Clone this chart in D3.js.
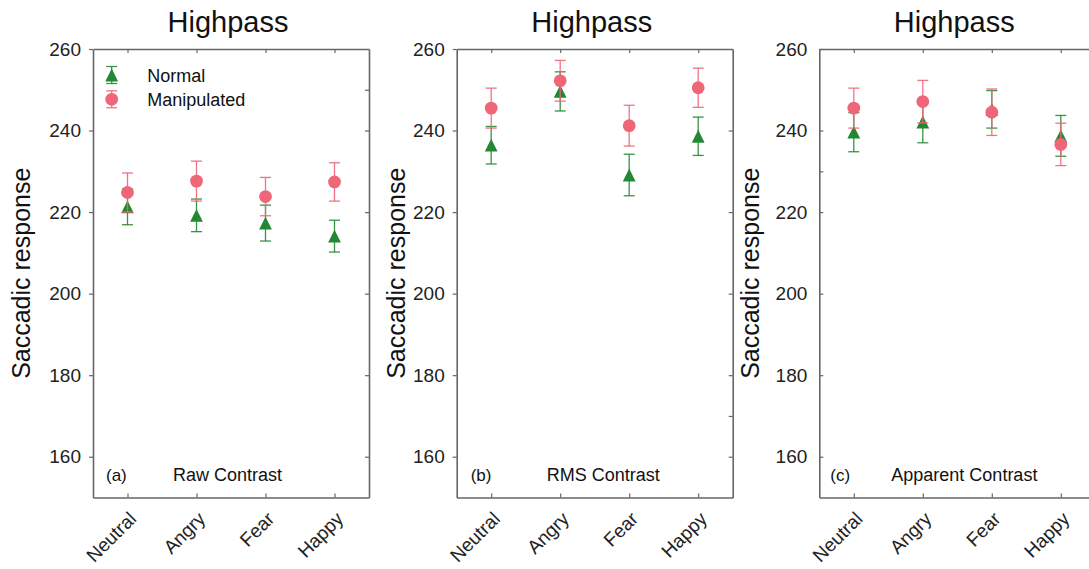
<!DOCTYPE html>
<html>
<head>
<meta charset="utf-8">
<script src="https://cdn.jsdelivr.net/npm/d3@7"></script>
<style>
  html, body { margin: 0; padding: 0; background: #fff; }
  svg { display: block; font-family: "Liberation Sans", Arial, sans-serif; }
</style>
</head>
<body>
<svg id="chart" width="1089" height="569"></svg>
<script>
// ---------------- data ----------------
const categories = ["Neutral", "Angry", "Fear", "Happy"];
const yTicks = [160, 180, 200, 220, 240, 260];
const panelTitles = ["Highpass", "Highpass", "Highpass"];
const panelTags = ["(a)", "(b)", "(c)"];
const panelNames = ["Raw Contrast", "RMS Contrast", "Apparent Contrast"];
const seriesNames = ["Normal", "Manipulated"];
const yLabel = "Saccadic response";

const rawNormal = [221.3, 219.2, 217.3, 214.1];
const rawNormalErr = [4.4, 4.0, 4.4, 3.9];
const rawManip = [224.8, 227.6, 223.8, 227.4];
const rawManipErr = [4.8, 4.9, 4.7, 4.7];

const rmsNormal = [236.4, 249.6, 229.1, 238.6];
const rmsNormalErr = [4.6, 4.8, 5.1, 4.7];
const rmsManip = [245.5, 252.2, 241.2, 250.5];
const rmsManipErr = [4.9, 5.0, 5.0, 4.8];

const appNormal = [239.6, 242.1, 245.2, 238.7];
const appNormalErr = [4.8, 5.1, 4.6, 5.0];
const appManip = [245.5, 247.1, 244.5, 236.6];
const appManipErr = [4.9, 5.2, 5.7, 5.2];

// odd extra tick marks present in the original frame
const rightTicks = [[250, 240, 220, 200, 180, 160], [240, 220, 200, 180, 170, 160], []];
const leftTicksExtra = [[], [], [230]];

// ---------------- layout ----------------
const W = 1089, H = 569;
const panelLeft = [93, 456.7, 819.3];
const panelW = 276;
const plotTop = 49, plotBottom = 497.5;
const yLabelOffset = [-63, -52, -60];
const tagOffset = [13, 14, 11];
const nameOffset = [80, 90, 72];
const leftTickDir = [1, 1, -1]; // 1 outward, -1 inward
const green = "#228833", pink = "#EE6677";
const axisColor = "#666";
const textColor = "#222";

const panelData = [
  { normal: rawNormal, normalErr: rawNormalErr, manip: rawManip, manipErr: rawManipErr },
  { normal: rmsNormal, normalErr: rmsNormalErr, manip: rmsManip, manipErr: rmsManipErr },
  { normal: appNormal, normalErr: appNormalErr, manip: appManip, manipErr: appManipErr }
];

const svg = d3.select("#chart");
svg.append("rect").attr("width", W).attr("height", H).attr("fill", "#fff");

const y = d3.scaleLinear().domain([150, 260]).range([plotBottom, plotTop]);
const x = d3.scalePoint().domain(categories).range([0, panelW]).padding(0.5);

const triSize = 6.4, circR = 6.4, capHalf = 5.5;
function triPath(h) { return `M0,${-h}L${h},${h}L${-h},${h}Z`; }

function drawErr(g, cx, v, e, color) {
  const y1 = y(v + e), y2 = y(v - e);
  const eg = g.append("g").attr("stroke", color).attr("stroke-width", 1.3).attr("stroke-opacity", 0.9);
  eg.append("line").attr("x1", cx).attr("x2", cx).attr("y1", y1).attr("y2", y2);
  eg.append("line").attr("x1", cx - capHalf).attr("x2", cx + capHalf).attr("y1", y1).attr("y2", y1);
  eg.append("line").attr("x1", cx - capHalf).attr("x2", cx + capHalf).attr("y1", y2).attr("y2", y2);
}

panelData.forEach((pd, pi) => {
  const g = svg.append("g").attr("transform", `translate(${panelLeft[pi]},0)`);

  // title
  g.append("text").attr("x", panelW / 2 - 3).attr("y", 32).attr("text-anchor", "middle")
    .attr("font-size", 29).attr("fill", "#111").text(panelTitles[pi]);

  // left axis
  const dir = leftTickDir[pi];
  const la = d3.axisLeft(y).tickValues(yTicks.concat(leftTicksExtra[pi]))
    .tickSizeInner(4 * dir).tickSizeOuter(0).tickPadding(dir > 0 ? 8 : 12)
    .tickFormat(d => yTicks.includes(d) ? d : "");
  const lg = g.append("g").call(la);
  lg.select(".domain").attr("stroke", axisColor).attr("stroke-width", 1.6);
  lg.selectAll(".tick line").attr("stroke", axisColor).attr("stroke-width", 1.2);
  lg.selectAll(".tick text").attr("font-size", 19).attr("fill", textColor)
    .attr("font-family", "Liberation Sans, Arial, sans-serif");

  // right axis
  const ra = d3.axisRight(y).tickValues(rightTicks[pi]).tickSizeInner(-4).tickSizeOuter(0).tickFormat("");
  const rg = g.append("g").attr("transform", `translate(${panelW},0)`).call(ra);
  rg.select(".domain").attr("stroke", axisColor).attr("stroke-width", 1.6);
  rg.selectAll(".tick line").attr("stroke", axisColor).attr("stroke-width", 1.2);

  // bottom axis
  const ba = d3.axisBottom(x).tickSizeInner(-4).tickSizeOuter(0).tickFormat("");
  const bg = g.append("g").attr("transform", `translate(0,${plotBottom})`).call(ba);
  bg.select(".domain").attr("stroke", axisColor).attr("stroke-width", 1.6);
  bg.selectAll(".tick line").attr("stroke", axisColor).attr("stroke-width", 1.2);

  // top axis
  const ta = d3.axisTop(x).tickSizeInner(-4).tickSizeOuter(0).tickFormat("");
  const tg = g.append("g").attr("transform", `translate(0,${plotTop})`).call(ta);
  tg.select(".domain").attr("stroke", axisColor).attr("stroke-width", 1.6);
  tg.selectAll(".tick line").attr("stroke", axisColor).attr("stroke-width", 1.2);

  // rotated category labels
  categories.forEach(c => {
    g.append("text")
      .attr("transform", `translate(${x(c) + 10},${plotBottom + 22.5}) rotate(-45)`)
      .attr("text-anchor", "end").attr("font-size", 19).attr("fill", textColor).text(c);
  });

  // y label
  g.append("text")
    .attr("transform", `translate(${yLabelOffset[pi]},${(plotTop + plotBottom) / 2}) rotate(-90)`)
    .attr("text-anchor", "middle").attr("font-size", 25).attr("fill", "#111").text(yLabel);

  // annotations
  g.append("text").attr("x", tagOffset[pi]).attr("y", 481).attr("font-size", 17).attr("fill", "#111").text(panelTags[pi]);
  g.append("text").attr("x", nameOffset[pi]).attr("y", 481).attr("font-size", 18).attr("fill", "#111").text(panelNames[pi]);

  // data: normal
  categories.forEach((c, i) => drawErr(g, x(c), pd.normal[i], pd.normalErr[i], green));
  g.selectAll("path.tri").data(pd.normal).enter().append("path").attr("class", "tri")
    .attr("d", triPath(triSize)).attr("fill", green)
    .attr("transform", (d, i) => `translate(${x(categories[i])},${y(d)})`);
  // data: manipulated
  categories.forEach((c, i) => drawErr(g, x(c), pd.manip[i], pd.manipErr[i], pink));
  g.selectAll("circle.dot").data(pd.manip).enter().append("circle").attr("class", "dot")
    .attr("cx", (d, i) => x(categories[i])).attr("cy", d => y(d)).attr("r", circR).attr("fill", pink);

  // legend in first panel
  if (pi === 0) {
    const lx = 18.7, rows = [75, 99.3], lcap = 8.5;
    [green, pink].forEach((col, k) => {
      const ry = rows[k];
      const lgG = g.append("g").attr("stroke", col).attr("stroke-width", 1.3).attr("stroke-opacity", 0.9);
      lgG.append("line").attr("x1", lx).attr("x2", lx).attr("y1", ry - lcap).attr("y2", ry + lcap);
      lgG.append("line").attr("x1", lx - capHalf).attr("x2", lx + capHalf).attr("y1", ry - lcap).attr("y2", ry - lcap);
      lgG.append("line").attr("x1", lx - capHalf).attr("x2", lx + capHalf).attr("y1", ry + lcap).attr("y2", ry + lcap);
      if (k === 0) {
        g.append("path").attr("d", triPath(triSize)).attr("fill", col).attr("transform", `translate(${lx},${ry})`);
      } else {
        g.append("circle").attr("cx", lx).attr("cy", ry).attr("r", circR).attr("fill", col);
      }
      g.append("text").attr("x", 54.3).attr("y", ry + 6.5).attr("font-size", 18).attr("fill", "#111").text(seriesNames[k]);
    });
  }
});
</script>
</body>
</html>
